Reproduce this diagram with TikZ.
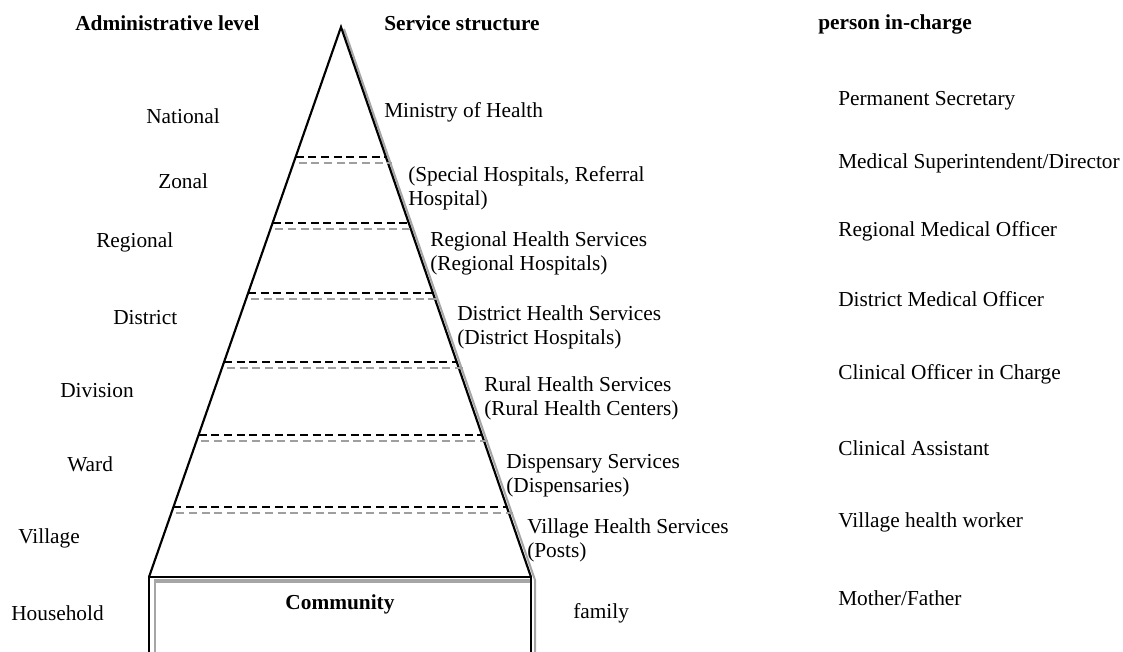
\documentclass[tikz,border=0pt]{standalone}
\usepackage{fontspec}
\setmainfont{Liberation Serif}
\usetikzlibrary{calc}

\tikzset{
  txt/.style={anchor=west, inner sep=0pt, align=left, font=\fontsize{16}{18}\selectfont},
  head/.style={txt, font=\fontsize{16}{18}\selectfont\bfseries},
  edge/.style={line width=1.6pt},
  shadow/.style={line width=1.5pt, gray!70},
  levelline/.style={line width=1pt, dash pattern=on 6pt off 3.5pt},
}

\begin{document}
\begin{tikzpicture}[x=0.75pt, y=-0.75pt]
  \useasboundingbox (0,0) rectangle (1123,651);
  % Pyramid corners
  \coordinate (apex) at (341,27);
  \coordinate (bl) at (149,577);
  \coordinate (br) at (531,577);
  % Shadow of the right side and the box
  \draw[shadow] ($(apex)+(3,2)$) -- ($(br)+(4,3)$) -- (535,660);
  \draw[shadow, line width=1pt] (155,660) -- (155,582);
  \draw[shadow, line width=3pt] (154,581) -- (531,581);
  % Pyramid
  \draw[edge, line join=miter] (bl) -- (apex) -- (br);
  % Community box (runs off the bottom)
  \draw[edge] (149,660) -- (bl) -- (br) -- (531,660);
  % Level dividers
  \foreach \yy in {157,223,293,362,435,507} {
    \pgfmathsetmacro\ratio{(\yy-27)/550}
    \pgfmathsetmacro\ratiob{(\yy+6-27)/550}
    \draw[levelline] ($(apex)!\ratio!(bl)$) -- ($(apex)!\ratio!(br)$);
    \draw[levelline, gray!75] ($(apex)!\ratiob!(bl)+(5,0)$) -- ($(apex)!\ratiob!(br)+(4,0)$);
  }
  % Column headings
  \node[head] (h-admin) at (75,23) {Administrative level};
  \node[head] (h-service) at (384,23) {Service structure};
  \node[head] (h-person) at (818,24) {person in-charge};
  % Administrative levels
  \node[txt] (l-national) at (146,116) {National};
  \node[txt] (l-zonal) at (158,181) {Zonal};
  \node[txt] (l-regional) at (96,242) {Regional};
  \node[txt] (l-district) at (113,318) {District};
  \node[txt] (l-division) at (60,391) {Division};
  \node[txt] (l-ward) at (67,464) {Ward};
  \node[txt] (l-village) at (18,538) {Village};
  \node[txt] (l-household) at (11,613) {Household};
  % Service structure
  \node[txt] (s-ministry) at (384,112) {Ministry of Health};
  \node[txt] (s-zonal) at (408,188) {(Special Hospitals, Referral\\Hospital)};
  \node[txt] (s-regional) at (430,253) {Regional Health Services\\(Regional Hospitals)};
  \node[txt] (s-district) at (457,327) {District Health Services\\(District Hospitals)};
  \node[txt] (s-rural) at (484,398) {Rural Health Services\\(Rural Health Centers)};
  \node[txt] (s-dispensary) at (506,476) {Dispensary Services\\(Dispensaries)};
  \node[txt] (s-village) at (527,540) {Village Health Services\\(Posts)};
  \node[txt] (s-family) at (573,613) {family};
  \node[head, anchor=center] (s-community) at (340,604) {Community};
  % Persons in charge
  \node[txt] (p-national) at (838,101) {Permanent Secretary};
  \node[txt] (p-zonal) at (838,163) {Medical Superintendent/Director};
  \node[txt] (p-regional) at (838,231) {Regional Medical Officer};
  \node[txt] (p-district) at (838,299) {District Medical Officer};
  \node[txt] (p-division) at (838,374) {Clinical Officer in Charge};
  \node[txt] (p-ward) at (838,448) {Clinical Assistant};
  \node[txt] (p-village) at (838,522) {Village health worker};
  \node[txt] (p-household) at (838,598) {Mother/Father};
\end{tikzpicture}
\end{document}
